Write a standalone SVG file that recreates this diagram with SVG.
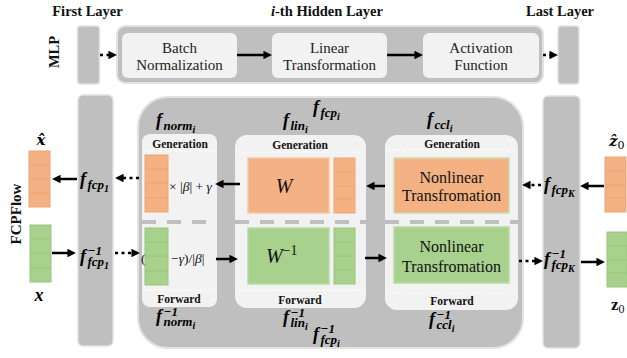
<svg xmlns="http://www.w3.org/2000/svg" width="627" height="358" viewBox="0 0 627 358">
<defs>
<marker id="ah" viewBox="0 0 10 10" refX="3" refY="5" markerWidth="3.4" markerHeight="3.4" orient="auto" markerUnits="strokeWidth"><path d="M0,0 L10,5 L0,10 z" fill="#000"/></marker>
<style>
.bar{fill:#bfbfbf;stroke:#e2e2e2;stroke-width:1.5}
.cont{fill:#bfbfbf;stroke:#e2e2e2;stroke-width:2}
.inner{fill:#f2f2f2}
.or{fill:#f4b183;stroke:#efa472;stroke-width:1}
.gr{fill:#a9d18e;stroke:#97c67a;stroke-width:1}
.orb{fill:#f4b183;stroke:#f6c8a6;stroke-width:1.5}
.orn{fill:#f4b183;stroke:#cddcae;stroke-width:1.5}
.grb{fill:#a9d18e;stroke:#b9dba3;stroke-width:1.5}
.t{font-family:"Liberation Serif","Times New Roman",serif;fill:#111}
.title{font-family:"Liberation Serif",serif;font-weight:bold;font-size:14.5px;fill:#111;text-anchor:middle}
.hdr{font-family:"Liberation Serif",serif;font-weight:bold;font-size:11.5px;fill:#111;text-anchor:middle}
.box{font-family:"Liberation Serif",serif;font-size:15px;fill:#222;text-anchor:middle}
.nl{font-family:"Liberation Serif",serif;font-size:16px;fill:#111;text-anchor:middle}
.m{font-family:"Liberation Serif",serif;font-weight:bold;font-style:italic;font-size:18px;fill:#000}
.s{font-size:13px}
.ss{font-size:10px}
.arr{stroke:#000;stroke-width:2.5;fill:none;marker-end:url(#ah)}
.dot{stroke-dasharray:3 3.5}
.gd{stroke:#bfbfbf;stroke-width:4;stroke-dasharray:14 11;fill:none}
.wd{stroke:#ffffff;stroke-width:1;stroke-dasharray:3 2;fill:none}
</style>
</defs>

<g id="titles">
<text class="title" x="87.5" y="16">First Layer</text>
<text class="title" x="327" y="16"><tspan font-style="italic">i</tspan>-th Hidden Layer</text>
<text class="title" x="560" y="16">Last Layer</text>
</g>

<g id="mlp">
<text class="title" transform="translate(59,52) rotate(-90)" x="0" y="0">MLP</text>
<rect id="mlp-first" class="bar" x="77.5" y="26" width="22" height="58" rx="3"/>
<rect id="mlp-hidden" class="cont" x="117" y="26" width="426" height="57" rx="8"/>
<rect id="mlp-last" class="bar" x="558" y="26" width="21" height="58" rx="3"/>
</g>
<g id="batch-norm">
<rect class="inner" x="122" y="33" width="115" height="45" rx="6"/>
<text class="box" x="179.5" y="53">Batch</text>
<text class="box" x="179.5" y="70">Normalization</text>
</g>
<g id="linear-trans">
<rect class="inner" x="272" y="33" width="115" height="45" rx="6"/>
<text class="box" x="329.5" y="53">Linear</text>
<text class="box" x="329.5" y="70">Transformation</text>
</g>
<g id="activation">
<rect class="inner" x="423" y="33" width="116" height="45" rx="6"/>
<text class="box" x="481" y="53">Activation</text>
<text class="box" x="481" y="70">Function</text>
</g>

<g id="fcpflow">
<text class="title" style="font-size:15px" transform="translate(21,214) rotate(-90)" x="0" y="0">FCPFlow</text>
<rect id="bar-first" class="bar" x="78" y="95" width="35" height="251" rx="5"/>
<rect id="container" class="cont" x="138" y="97" width="385" height="251" rx="30"/>
<rect id="bar-last" class="bar" x="543" y="96" width="37" height="252" rx="5"/>
</g>

<g id="x-hat">
<text class="m" x="41" y="145" text-anchor="middle" style="font-family:'DejaVu Serif',serif;font-size:15px">x̂</text>
<rect class="or" x="29" y="151" width="21" height="56"/>
<path class="or" d="M29,165H50M29,179H50M29,193H50"/>
</g>
<g id="x">
<rect class="gr" x="30" y="225" width="21" height="57"/>
<path class="gr" d="M30,239H51M30,253H51M30,268H51"/>
<text class="m" x="39" y="301" text-anchor="middle" style="font-size:18px">x</text>
</g>
<g id="z-hat">
<text class="m" x="609" y="146" style="font-family:'DejaVu Serif',serif;font-size:15px">ẑ<tspan style="font-size:11px;font-style:normal;font-weight:normal" dy="3">0</tspan></text>
<rect class="or" x="605" y="157" width="21" height="55"/>
<path class="or" d="M605,171H626M605,185H626M605,198H626"/>
</g>
<g id="z">
<rect class="gr" x="607" y="232" width="20" height="55"/>
<path class="gr" d="M607,246H627M607,260H627M607,273H627"/>
<text class="t" x="611" y="310" style="font-weight:bold;font-size:17px">z<tspan style="font-size:12px;font-weight:normal" dy="3">0</tspan></text>
</g>

<g id="labels-fcp">
<text class="m" x="80" y="185">f<tspan class="s" dx="1.5" dy="4">fcp</tspan><tspan class="ss" dy="3">1</tspan></text>
<text class="m" x="80" y="262">f<tspan class="s" dx="1.5" dy="-7">−1</tspan><tspan class="s" x="87.5" dy="11">fcp</tspan><tspan class="ss" dy="3">1</tspan></text>
<text class="m" x="313" y="113">f<tspan class="s" dx="1.5" dy="4">fcp</tspan><tspan class="ss" dy="3">i</tspan></text>
<text class="m" x="313" y="340">f<tspan class="s" dx="1.5" dy="-7">−1</tspan><tspan class="s" x="320.5" dy="11">fcp</tspan><tspan class="ss" dy="3">i</tspan></text>
<text class="m" x="544" y="190">f<tspan class="s" dx="1.5" dy="4">fcp</tspan><tspan class="ss" dy="3">K</tspan></text>
<text class="m" x="544" y="265">f<tspan class="s" dx="1.5" dy="-7">−1</tspan><tspan class="s" x="551.5" dy="11">fcp</tspan><tspan class="ss" dy="3">K</tspan></text>
</g>

<g id="norm">
<rect class="inner" x="142" y="134" width="75" height="173" rx="8"/>
<text class="hdr" x="180" y="148">Generation</text>
<path class="wd" d="M144,151H215M144,290H215"/>
<text class="hdr" x="179" y="303">Forward</text>
<rect class="or" x="145" y="155" width="23" height="57"/>
<path class="or" d="M145,169H168M145,183H168M145,198H168"/>
<text class="t" x="169" y="191" style="font-size:13.5px">× |<tspan font-style="italic">β</tspan>| + <tspan font-style="italic">γ</tspan></text>
<rect class="gr" x="145" y="228" width="23" height="57"/>
<path class="gr" d="M145,242H168M145,256H168M145,271H168"/>
<text class="t" x="141" y="263" style="font-size:13.5px">(</text>
<text class="t" x="171" y="263" style="font-size:13.5px">−<tspan font-style="italic">γ</tspan>)/|<tspan font-style="italic">β</tspan>|</text>
<text class="m" x="156" y="126">f<tspan class="s" dx="1.5" dy="4">norm</tspan><tspan class="ss" dy="3">i</tspan></text>
<text class="m" x="156" y="322">f<tspan class="s" dx="1.5" dy="-6">−1</tspan><tspan class="s" x="163.5" dy="10">norm</tspan><tspan class="ss" dy="3">i</tspan></text>
</g>

<g id="lin">
<rect class="inner" x="235" y="135" width="131" height="173" rx="12"/>
<text class="hdr" x="300" y="149">Generation</text>
<path class="wd" d="M237,152H364M237,290H364"/>
<text class="hdr" x="300" y="304">Forward</text>
<rect class="orb" x="248" y="158" width="81" height="55"/>
<text class="t" x="284" y="193" text-anchor="middle" style="font-style:italic;font-size:20px">W</text>
<rect class="or" x="334" y="158" width="21" height="55"/>
<path class="or" d="M334,172H355M334,186H355M334,199H355"/>
<rect class="grb" x="248" y="228" width="81" height="56"/>
<text class="t" x="266" y="263" style="font-style:italic;font-size:20px">W<tspan style="font-style:normal;font-size:14px" dy="-8">−1</tspan></text>
<rect class="gr" x="334" y="228" width="21" height="56"/>
<path class="gr" d="M334,242H355M334,256H355M334,270H355"/>
<text class="m" x="283" y="126">f<tspan class="s" dx="1.5" dy="4">lin</tspan><tspan class="ss" dy="3">i</tspan></text>
<text class="m" x="283" y="323">f<tspan class="s" dx="1.5" dy="-6">−1</tspan><tspan class="s" x="290.5" dy="10">lin</tspan><tspan class="ss" dy="3">i</tspan></text>
</g>

<g id="ccl">
<rect class="inner" x="385" y="135" width="133" height="175" rx="12"/>
<text class="hdr" x="452" y="148">Generation</text>
<path class="wd" d="M387,150H516M387,293H516"/>
<text class="hdr" x="452" y="305">Forward</text>
<rect class="orn" x="394" y="158" width="115" height="55"/>
<text class="nl" x="451.5" y="183">Nonlinear</text>
<text class="nl" x="451.5" y="201">Transfromation</text>
<rect class="grb" x="394" y="227" width="115" height="56"/>
<text class="nl" x="451.5" y="252">Nonlinear</text>
<text class="nl" x="451.5" y="272">Transfromation</text>
<text class="m" x="427" y="125">f<tspan class="s" dx="1.5" dy="4">ccl</tspan><tspan class="ss" dy="3">i</tspan></text>
<text class="m" x="429" y="325">f<tspan class="s" dx="1.5" dy="-6">−1</tspan><tspan class="s" x="436.5" dy="10">ccl</tspan><tspan class="ss" dy="3">i</tspan></text>
</g>

<g id="dividers">
<path class="gd" d="M142,222H217"/>
<path class="gd" d="M235,222H366"/>
<path class="gd" d="M385,222H520"/>
</g>

<g id="connectors">
<path class="arr dot" d="M100,55H111"/>
<path class="arr" d="M237,55H266"/>
<path class="arr" d="M387,55H417"/>
<path class="arr dot" d="M543,55H552"/>
<path class="arr" d="M77,179H58"/>
<path class="arr dot" d="M139,178H121"/>
<path class="arr" d="M240,184H221"/>
<path class="arr" d="M52,253H70"/>
<path class="arr dot" d="M115,253H134"/>
<path class="arr" d="M216,259H232"/>
<path class="arr" d="M385,186H372"/>
<path class="arr" d="M365,258H381"/>
<path class="arr dot" d="M541,185H528"/>
<path class="arr" d="M604,186H586"/>
<path class="arr dot" d="M519,261H537"/>
<path class="arr" d="M581,262H599"/>
</g>
</svg>
